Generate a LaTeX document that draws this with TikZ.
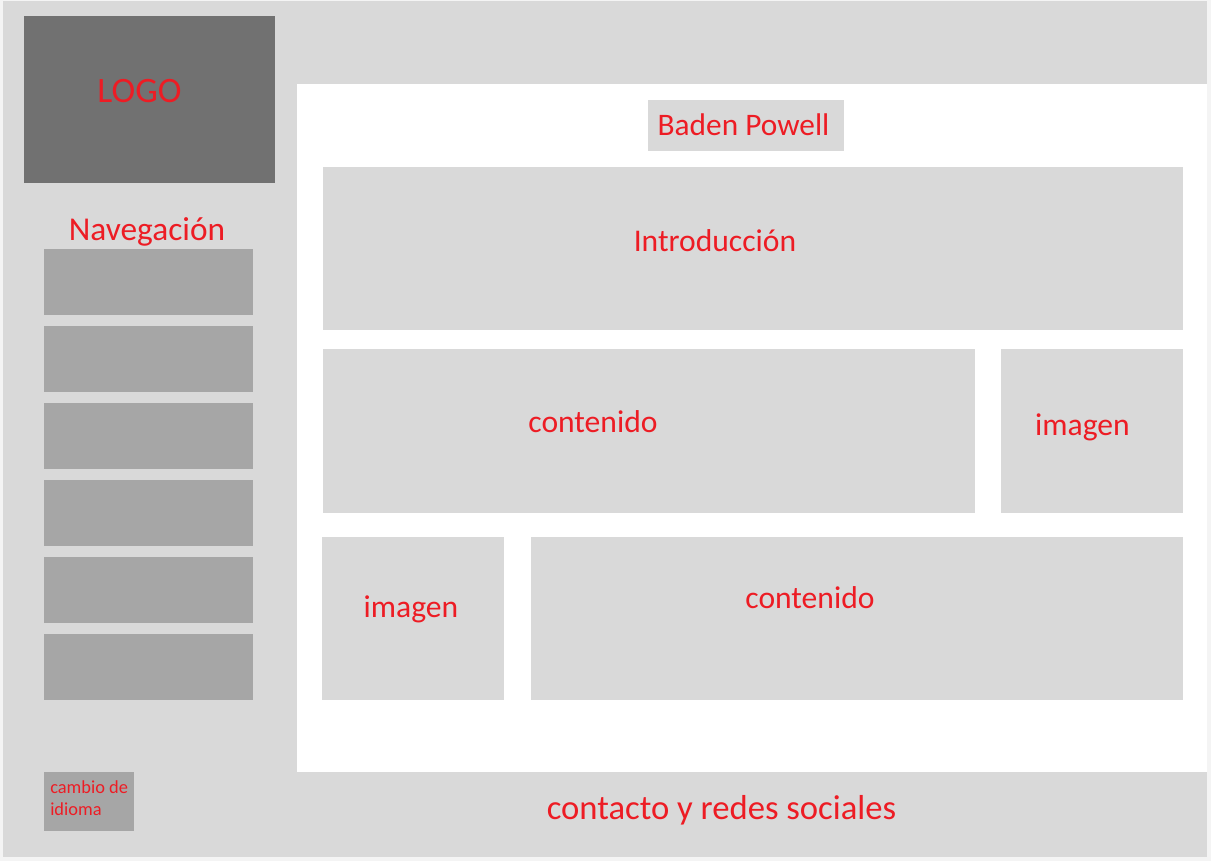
\documentclass[tikz,border=0pt]{standalone}
\usepackage{fontspec}
\setmainfont{Carlito}

\definecolor{pagebg}{HTML}{F4F4F4}
\definecolor{framegray}{HTML}{D9D9D9}
\definecolor{logogray}{HTML}{717171}
\definecolor{navgray}{HTML}{A6A6A6}
\definecolor{textred}{RGB}{237,28,36}

\tikzset{
  redtext/.style={text=textred, inner sep=0pt, anchor=base},
  bigtext/.style={redtext, font=\fontsize{23.7}{28}\selectfont},
  smalltext/.style={text=textred, inner sep=0pt, anchor=base west,
    font=\fontsize{13.8}{16.5}\selectfont, align=left},
  navbox/.style={fill=navgray},
  areabox/.style={fill=framegray}
}

\begin{document}
\begin{tikzpicture}[x=0.75pt,y=-0.75pt]

\fill[pagebg] (0,0) rectangle (1211,861);
\useasboundingbox (0,0) rectangle (1211,861);

% outer frame and white content area
\fill[framegray] (3,1) rectangle (1207,857);
\fill[white] (297,84) rectangle (1207,772);

% logo
\fill[logogray] (24,16) rectangle (275,183);
\node[redtext, font=\fontsize{26.8}{32}\selectfont] (logo) at (139.5,102) {LOGO};

% navigation
\node[redtext, font=\fontsize{25}{30}\selectfont] (nav) at (147,240) {Navegación};
\fill[navbox] (44,249) rectangle (253,315);
\fill[navbox] (44,326) rectangle (253,392);
\fill[navbox] (44,403) rectangle (253,469);
\fill[navbox] (44,480) rectangle (253,546);
\fill[navbox] (44,557) rectangle (253,623);
\fill[navbox] (44,634) rectangle (253,700);

% language switch
\fill[navbox] (44,772) rectangle (134,831);
\node[smalltext] (lang) at (50,815) {cambio de\\idioma};

% title
\fill[areabox] (648,100) rectangle (844,151);
\node[redtext, font=\fontsize{23.5}{28}\selectfont] (title) at (743.5,135) {Baden Powell};

% content blocks
\fill[areabox] (323,167) rectangle (1183,330);
\node[bigtext] (intro) at (715,251) {Introducción};

\fill[areabox] (323,349) rectangle (975,513);
\node[bigtext] (contentA) at (593,432) {contenido};

\fill[areabox] (1001,349) rectangle (1183,513);
\node[bigtext] (imageA) at (1082.5,435) {imagen};

\fill[areabox] (322,537) rectangle (504,700);
\node[bigtext] (imageB) at (411,617) {imagen};

\fill[areabox] (531,537) rectangle (1183,700);
\node[bigtext] (contentB) at (810,608) {contenido};

% footer
\node[redtext, font=\fontsize{26}{31}\selectfont] (footer) at (721.5,819) {contacto y redes sociales};

\end{tikzpicture}
\end{document}
